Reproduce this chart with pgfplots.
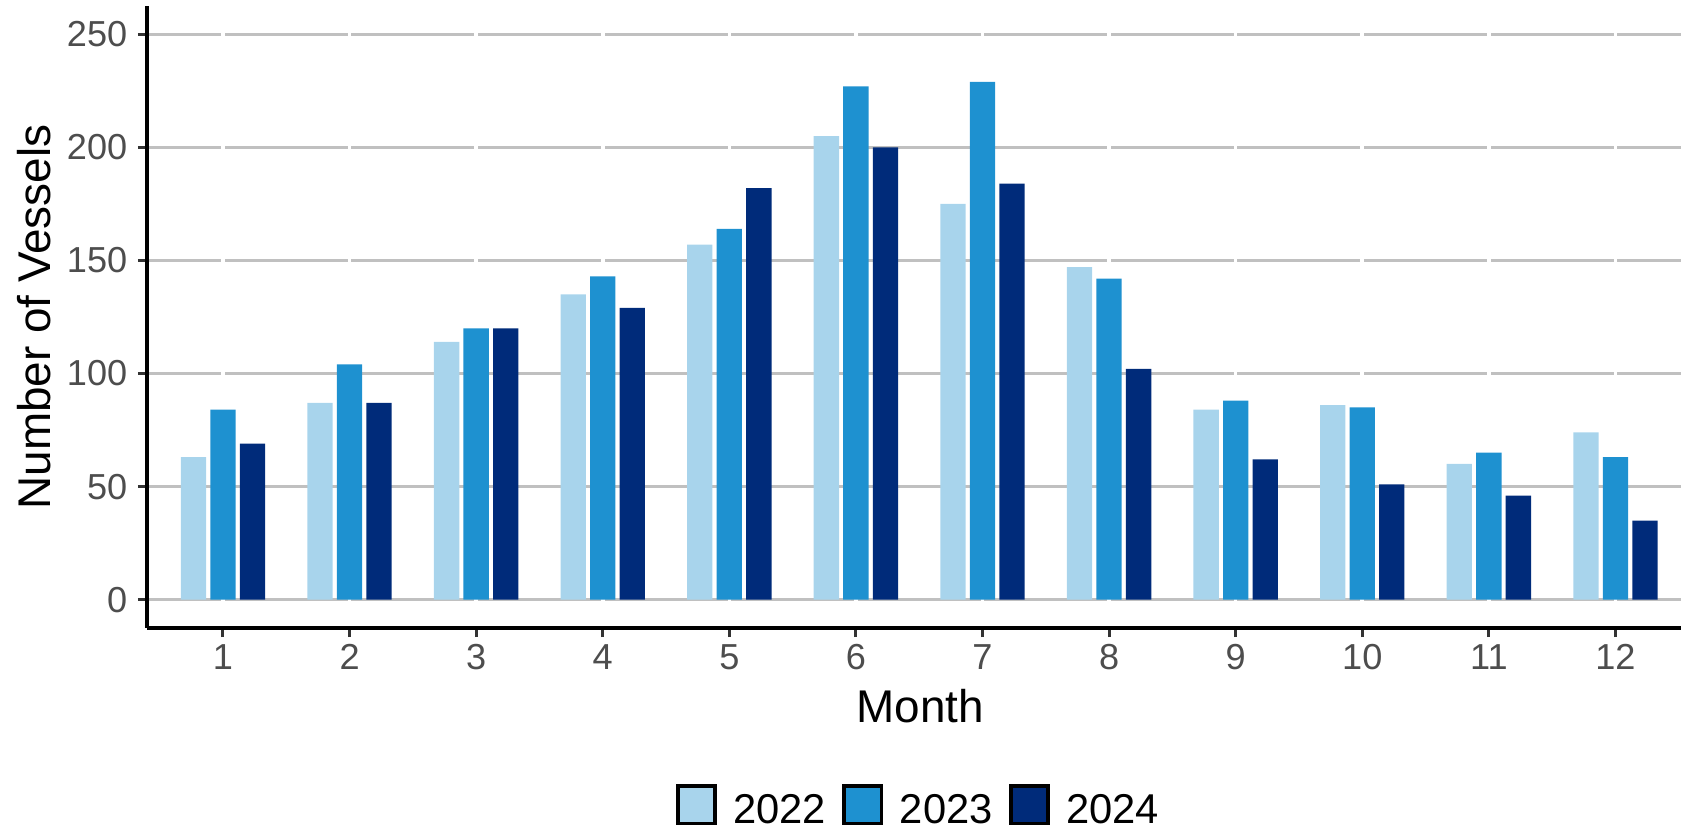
\documentclass[border=0pt]{standalone}
\usepackage{fontspec}
\setmainfont{Liberation Sans}
\usepackage{pgfplots}
\pgfplotsset{compat=1.18}
\definecolor{cA}{HTML}{A8D4EC}
\definecolor{cB}{HTML}{1E91D0}
\definecolor{cC}{HTML}{002B7A}
\definecolor{gridgray}{HTML}{C0C0C0}
\definecolor{tickgray}{HTML}{333333}
\definecolor{labgray}{HTML}{4D4D4D}
\begin{document}
\begin{tikzpicture}
\begin{axis}[
  scale only axis, width=552pt, height=223.8pt,
  xmin=0.4, xmax=12.518, ymin=-12.5, ymax=262.5,
  axis x line*=bottom, axis y line*=left,
  axis line style={black, line width=1.2pt, -},
  xtick={1,...,12}, ytick={0,50,...,250},
  tick align=outside, major tick length=3.3pt,
  tick style={color=tickgray, line width=1.1pt},
  ymajorgrids, major grid style={gridgray, line width=1.1pt},
  /pgf/number format/assume math mode=true,
  ticklabel style={font=\fontsize{13}{15}\selectfont, text=labgray, inner sep=0pt},
  xticklabel style={yshift=-2.4pt},
  yticklabel style={xshift=-3.6pt},
  xlabel={Month}, ylabel={Number of Vessels},
  label style={font=\fontsize{16.5}{19}\selectfont, inner sep=0pt},
  xlabel style={at={(axis description cs:0.504,-0.1527)}, anchor=base},
  ylabel style={at={(axis description cs:-0.0632,0.5)}, anchor=base},
  legend style={at={(axis description cs:0.5023,-0.2862)}, anchor=center, draw=none, fill=none,
    font=\fontsize{15}{18}\selectfont, legend columns=3, inner sep=0pt, outer sep=0pt,
    nodes={inner sep=0pt},
    /tikz/every odd column/.append style={column sep=5.9pt},
    /tikz/every even column/.append style={column sep=5.9pt}},
  legend cell align=left,
  legend image code/.code={\draw[#1, draw=black, line width=1.3pt] (0pt,-4.6pt) rectangle (13.45pt,8.85pt);},
]
\pgfplotsinvokeforeach{1,...,12}{\addplot[white, line width=1.3pt, forget plot] coordinates {(#1,-10) (#1,262.5)};}
\addplot[ybar, bar width=0.2, bar shift=-0.2333, fill=cA, draw=none] coordinates {
(1,63) (2,87) (3,114) (4,135) (5,157) (6,205) (7,175) (8,147) (9,84) (10,86) (11,60) (12,74)};
\addplot[ybar, bar width=0.2, bar shift=0, fill=cB, draw=none] coordinates {
(1,84) (2,104) (3,120) (4,143) (5,164) (6,227) (7,229) (8,142) (9,88) (10,85) (11,65) (12,63)};
\addplot[ybar, bar width=0.2, bar shift=0.2333, fill=cC, draw=none] coordinates {
(1,69) (2,87) (3,120) (4,129) (5,182) (6,200) (7,184) (8,102) (9,62) (10,51) (11,46) (12,35)};
\legend{2022,2023,2024}
\end{axis}
\pgfresetboundingbox
\useasboundingbox ([shift={(-52.9pt,-72.7pt)}]current axis.south west) rectangle ([shift={(0pt,2.16pt)}]current axis.north east);
\end{tikzpicture}
\end{document}
